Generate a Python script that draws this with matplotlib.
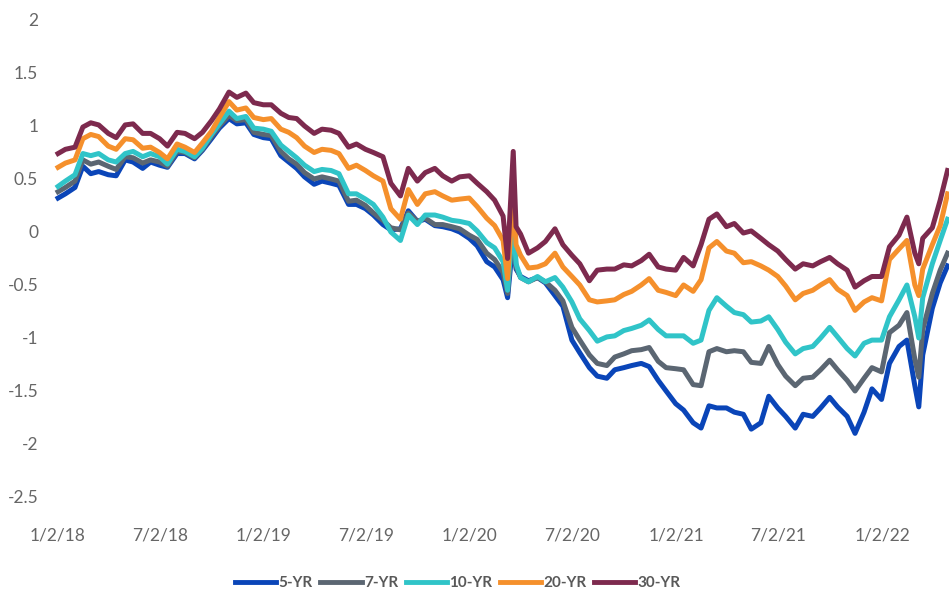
"""Real yields by tenor, 2018-2022."""
import pandas as pd
import matplotlib
matplotlib.use("Agg")
import matplotlib.pyplot as plt

plt.rcParams['font.family'] = ['Lato', 'DejaVu Sans']
plt.rcParams['axes.unicode_minus'] = False

dates = ['2018-01-02', '2018-01-15', '2018-02-01', '2018-02-15', '2018-03-01', '2018-03-15',
         '2018-04-01', '2018-04-15', '2018-05-01', '2018-05-15', '2018-06-01', '2018-06-15',
         '2018-07-01', '2018-07-15', '2018-08-01', '2018-08-15', '2018-09-01', '2018-09-15',
         '2018-10-01', '2018-10-15', '2018-11-01', '2018-11-15', '2018-12-01', '2018-12-15',
         '2019-01-01', '2019-01-15', '2019-02-01', '2019-02-15', '2019-03-01', '2019-03-15',
         '2019-04-01', '2019-04-15', '2019-05-01', '2019-05-15', '2019-06-01', '2019-06-15',
         '2019-07-01', '2019-07-15', '2019-08-01', '2019-08-15', '2019-09-01', '2019-09-15',
         '2019-10-01', '2019-10-15', '2019-11-01', '2019-11-15', '2019-12-01', '2019-12-15',
         '2020-01-01', '2020-01-15', '2020-02-01', '2020-02-15', '2020-03-01', '2020-03-09',
         '2020-03-19', '2020-03-24', '2020-04-01', '2020-04-15', '2020-05-01', '2020-05-15',
         '2020-06-01', '2020-06-15', '2020-07-01', '2020-07-15', '2020-08-01', '2020-08-15',
         '2020-09-01', '2020-09-15', '2020-10-01', '2020-10-15', '2020-11-01', '2020-11-15',
         '2020-12-01', '2020-12-15', '2021-01-01', '2021-01-15', '2021-02-01', '2021-02-15',
         '2021-03-01', '2021-03-15', '2021-04-01', '2021-04-15', '2021-05-01', '2021-05-15',
         '2021-06-01', '2021-06-15', '2021-07-01', '2021-07-15', '2021-08-01', '2021-08-15',
         '2021-09-01', '2021-09-15', '2021-10-01', '2021-10-15', '2021-11-01', '2021-11-15',
         '2021-12-01', '2021-12-15', '2022-01-01', '2022-01-15', '2022-02-01', '2022-02-15',
         '2022-03-01', '2022-03-08', '2022-03-15', '2022-04-01', '2022-04-15', '2022-04-28']

yr5 = [0.32, 0.36, 0.42, 0.62, 0.55, 0.57, 0.54, 0.53, 0.68, 0.66, 0.60, 0.66,
       0.63, 0.61, 0.74, 0.74, 0.69, 0.77, 0.88, 0.98, 1.07, 1.02, 1.03, 0.92,
       0.89, 0.88, 0.72, 0.66, 0.60, 0.52, 0.45, 0.48, 0.46, 0.44, 0.26, 0.26,
       0.22, 0.16, 0.07, 0.02, 0.03, 0.20, 0.10, 0.12, 0.06, 0.05, 0.03, 0.00,
       -0.06, -0.13, -0.28, -0.33, -0.45, -0.62, -0.05, -0.35, -0.42, -0.46, -0.43, -0.48,
       -0.60, -0.70, -1.02, -1.14, -1.28, -1.36, -1.38, -1.30, -1.28, -1.26, -1.24, -1.27,
       -1.40, -1.50, -1.62, -1.68, -1.80, -1.85, -1.64, -1.66, -1.66, -1.70, -1.72, -1.86,
       -1.80, -1.55, -1.66, -1.74, -1.85, -1.72, -1.74, -1.66, -1.56, -1.65, -1.74, -1.90,
       -1.70, -1.48, -1.58, -1.24, -1.08, -1.02, -1.45, -1.65, -1.16, -0.72, -0.48, -0.32]

yr7 = [0.38, 0.42, 0.48, 0.68, 0.64, 0.66, 0.62, 0.59, 0.71, 0.70, 0.65, 0.68,
       0.66, 0.62, 0.76, 0.75, 0.70, 0.78, 0.90, 1.00, 1.10, 1.05, 1.06, 0.94,
       0.92, 0.91, 0.76, 0.69, 0.64, 0.56, 0.50, 0.52, 0.50, 0.48, 0.29, 0.30,
       0.25, 0.18, 0.11, 0.04, 0.02, 0.18, 0.10, 0.13, 0.07, 0.07, 0.05, 0.03,
       -0.03, -0.07, -0.20, -0.26, -0.38, -0.58, 0.10, -0.33, -0.43, -0.47, -0.43, -0.47,
       -0.55, -0.65, -0.90, -1.02, -1.16, -1.24, -1.26, -1.18, -1.15, -1.12, -1.11, -1.09,
       -1.22, -1.28, -1.29, -1.30, -1.44, -1.45, -1.13, -1.10, -1.13, -1.12, -1.13, -1.23,
       -1.24, -1.08, -1.25, -1.36, -1.45, -1.38, -1.37, -1.30, -1.21, -1.30, -1.40, -1.50,
       -1.38, -1.28, -1.32, -0.95, -0.88, -0.76, -1.20, -1.37, -0.92, -0.58, -0.36, -0.20]

yr10 = [0.43, 0.48, 0.54, 0.74, 0.72, 0.74, 0.68, 0.66, 0.74, 0.76, 0.71, 0.74,
        0.71, 0.64, 0.78, 0.76, 0.71, 0.79, 0.92, 1.02, 1.14, 1.07, 1.09, 0.98,
        0.97, 0.95, 0.82, 0.76, 0.70, 0.63, 0.57, 0.59, 0.58, 0.55, 0.36, 0.36,
        0.31, 0.26, 0.14, 0.00, -0.08, 0.16, 0.07, 0.16, 0.16, 0.14, 0.11, 0.10,
        0.08, 0.01, -0.10, -0.15, -0.28, -0.55, 0.15, -0.30, -0.43, -0.47, -0.42, -0.47,
        -0.43, -0.52, -0.66, -0.82, -0.93, -1.03, -0.99, -0.98, -0.93, -0.91, -0.88, -0.83,
        -0.92, -0.98, -0.98, -0.98, -1.05, -1.02, -0.74, -0.62, -0.70, -0.76, -0.78, -0.85,
        -0.84, -0.80, -0.92, -1.04, -1.15, -1.10, -1.08, -1.00, -0.90, -0.99, -1.10, -1.17,
        -1.05, -1.02, -1.02, -0.80, -0.64, -0.50, -0.80, -1.00, -0.62, -0.30, -0.08, 0.12]

yr20 = [0.61, 0.65, 0.68, 0.88, 0.92, 0.90, 0.81, 0.78, 0.88, 0.87, 0.79, 0.80,
        0.75, 0.69, 0.83, 0.80, 0.75, 0.84, 0.95, 1.08, 1.23, 1.15, 1.17, 1.08,
        1.06, 1.07, 0.97, 0.94, 0.89, 0.81, 0.75, 0.78, 0.77, 0.74, 0.60, 0.63,
        0.58, 0.53, 0.48, 0.22, 0.12, 0.40, 0.26, 0.36, 0.38, 0.34, 0.30, 0.31,
        0.32, 0.24, 0.13, 0.06, -0.08, -0.44, 0.35, -0.12, -0.22, -0.34, -0.33, -0.30,
        -0.20, -0.33, -0.42, -0.50, -0.64, -0.66, -0.65, -0.64, -0.59, -0.56, -0.50, -0.44,
        -0.55, -0.57, -0.60, -0.50, -0.56, -0.45, -0.15, -0.09, -0.18, -0.20, -0.29, -0.28,
        -0.32, -0.36, -0.42, -0.51, -0.64, -0.58, -0.55, -0.50, -0.45, -0.54, -0.60, -0.74,
        -0.66, -0.62, -0.65, -0.26, -0.16, -0.08, -0.50, -0.60, -0.35, -0.12, 0.06, 0.36]

yr30 = [0.74, 0.78, 0.80, 0.99, 1.03, 1.01, 0.93, 0.89, 1.01, 1.02, 0.93, 0.93,
        0.88, 0.81, 0.94, 0.93, 0.88, 0.94, 1.05, 1.16, 1.32, 1.27, 1.31, 1.22,
        1.20, 1.20, 1.12, 1.08, 1.07, 1.00, 0.93, 0.97, 0.96, 0.93, 0.80, 0.83,
        0.78, 0.75, 0.71, 0.46, 0.34, 0.60, 0.48, 0.56, 0.60, 0.53, 0.48, 0.52,
        0.53, 0.46, 0.38, 0.30, 0.15, -0.25, 0.76, 0.05, -0.02, -0.20, -0.15, -0.09,
        0.03, -0.12, -0.22, -0.30, -0.46, -0.36, -0.35, -0.35, -0.31, -0.32, -0.27, -0.21,
        -0.33, -0.35, -0.36, -0.24, -0.32, -0.12, 0.12, 0.17, 0.05, 0.08, -0.01, 0.01,
        -0.06, -0.12, -0.18, -0.26, -0.35, -0.30, -0.32, -0.28, -0.24, -0.30, -0.36, -0.52,
        -0.46, -0.42, -0.42, -0.14, -0.03, 0.14, -0.20, -0.30, -0.06, 0.04, 0.30, 0.58]

series_names = ['5-YR', '7-YR', '10-YR', '20-YR', '30-YR']
colors = ['#0a45b8', '#5b6672', '#30c4c8', '#f5902c', '#7d2a4e']

xtick_dates = ['2018-01-02', '2018-07-02', '2019-01-02', '2019-07-02', '2020-01-02',
               '2020-07-02', '2021-01-02', '2021-07-02', '2022-01-02']
xtick_labels = ['1/2/18', '7/2/18', '1/2/19', '7/2/19', '1/2/20',
                '7/2/20', '1/2/21', '7/2/21', '1/2/22']
ytick_vals = [2, 1.5, 1, 0.5, 0, -0.5, -1, -1.5, -2, -2.5]

x = pd.to_datetime(dates)

fig = plt.figure(figsize=(9.5, 5.94), dpi=100)
ax = fig.add_axes([0.0534, 0.1455, 0.9452, 0.8387])

for vals, name, col in zip([yr5, yr7, yr10, yr20, yr30], series_names, colors):
    ax.plot(x, vals, color=col, lw=3.6, label=name, solid_joinstyle='round')

ax.set_xlim(pd.Timestamp('2017-12-20'), pd.Timestamp('2022-04-30'))
ax.set_ylim(-2.6, 2.1)
ax.set_xticks(pd.to_datetime(xtick_dates))
ax.set_xticklabels(xtick_labels)
ax.set_yticks(ytick_vals)
ax.set_yticklabels(['%g' % v for v in ytick_vals])
ax.tick_params(length=0, labelsize=12.5, colors='#666666')
ax.tick_params(axis='x', pad=14)
ax.tick_params(axis='y', pad=9)
for s in ax.spines.values():
    s.set_visible(False)

leg = fig.legend(loc='center', bbox_to_anchor=(0.482, 0.0185), ncol=5, frameon=False,
                 handlelength=2.7, handletextpad=0.15, columnspacing=0.5,
                 prop={'weight': 'bold', 'size': 11})
for t in leg.get_texts():
    t.set_color('#595959')
for h in leg.get_lines():
    h.set_linewidth(3.5)

fig.savefig('out.png', dpi=100)
